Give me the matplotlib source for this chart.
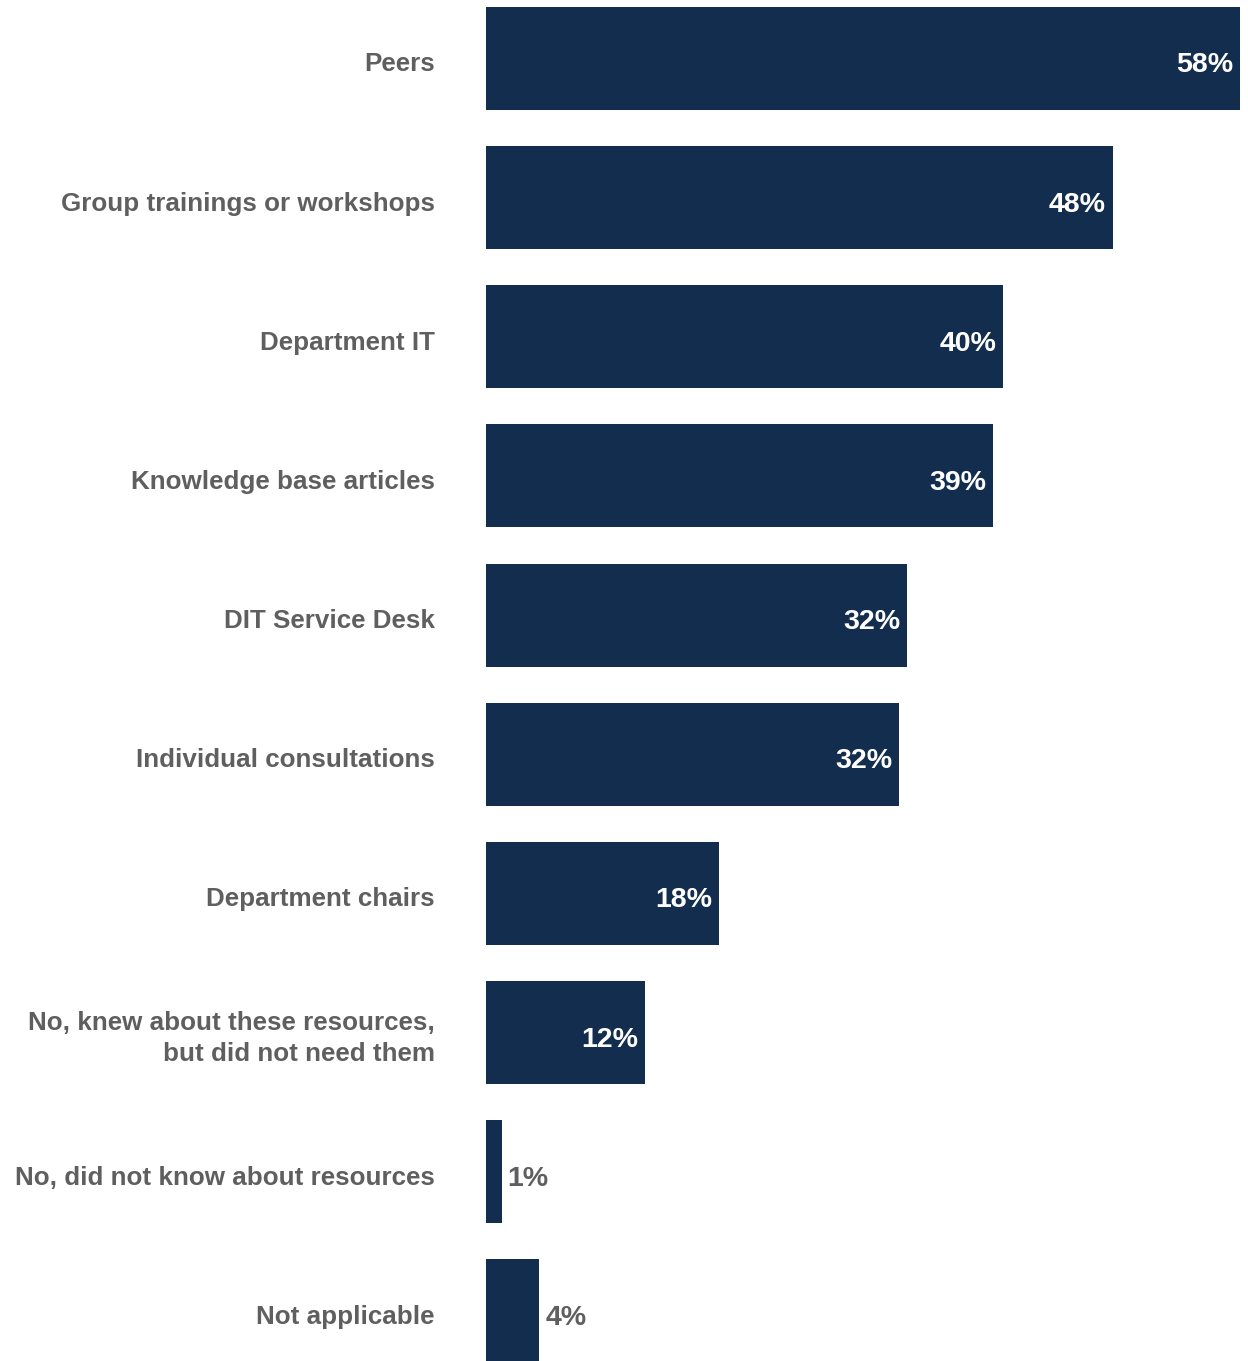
import matplotlib.pyplot as plt
import matplotlib.transforms as mtransforms

categories = [
    "Peers",
    "Group trainings or workshops",
    "Department IT",
    "Knowledge base articles",
    "DIT Service Desk",
    "Individual consultations",
    "Department chairs",
    "No, knew about these resources,\nbut did not need them",
    "No, did not know about resources",
    "Not applicable",
]
values = [58, 48.2, 39.8, 39.0, 32.4, 31.8, 17.9, 12.2, 1.2, 4.1]
labels = ["58%", "48%", "40%", "39%", "32%", "32%", "18%", "12%", "1%", "4%"]

bar_color = "#132d4f"
text_color = "#5f5f5f"

plt.rcParams['font.family'] = ['Liberation Sans', 'DejaVu Sans']

fig = plt.figure(figsize=(12.48, 13.61), dpi=100)
ax = fig.add_axes([486 / 1248, 0, (1240 - 486) / 1248, 1])

pos = list(range(len(categories)))
ax.barh(pos, values, height=0.74, color=bar_color)
ax.set_xlim(0, 58)
ax.set_ylim(9.36, -0.42)

# nudge text a few pixels down
down = mtransforms.ScaledTranslation(0, -7 / 100, fig.dpi_scale_trans)
left = mtransforms.ScaledTranslation(-51 / 100, -6 / 100, fig.dpi_scale_trans)

for y, v, lab in zip(pos, values, labels):
    if v > 8:
        ax.text(v - 0.5, y, lab, ha='right', va='center', color='white',
                fontsize=20.5, fontweight='bold', transform=ax.transData + down)
    else:
        ax.text(v + 0.45, y, lab, ha='left', va='center', color=text_color,
                fontsize=20.5, fontweight='bold', transform=ax.transData + down)

# category labels
for y, cat in zip(pos, categories):
    ax.text(0, y, cat, ha='right', va='center', multialignment='right',
            fontsize=18.7, fontweight='bold', color=text_color,
            linespacing=1.38, transform=ax.transData + left)

ax.set_yticks([])
ax.set_xticks([])
for s in ax.spines.values():
    s.set_visible(False)

fig.savefig("out.png", dpi=100)
